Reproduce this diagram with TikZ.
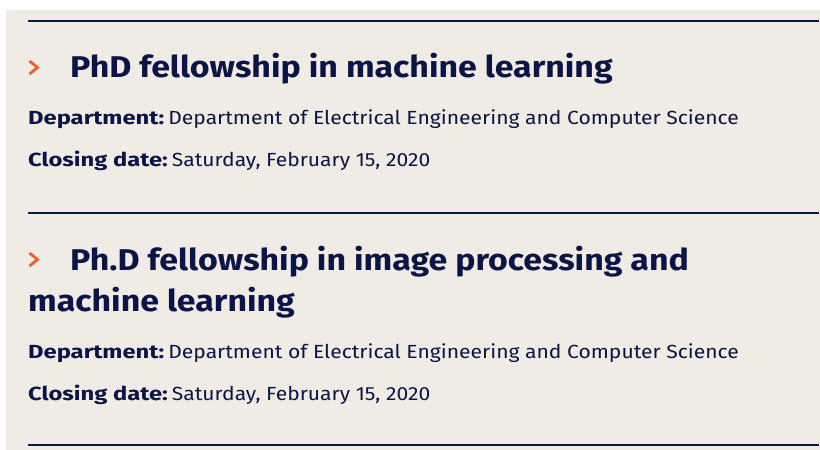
\documentclass[tikz,border=0pt]{standalone}
\usepackage{fontspec}
\setmainfont{Fira Sans}[FakeStretch=1.11, BoldFeatures={FakeStretch=1.13}]
\newfontfamily\labelfont{Fira Sans}[FakeStretch=1.25]
\usetikzlibrary{positioning}

\definecolor{navy}{HTML}{0B1446}
\definecolor{paper}{HTML}{F0EBE4}
\definecolor{chev}{HTML}{E8642C}

\newcommand{\field}[2]{{\labelfont\bfseries #1}\hspace{4pt}#2}

\begin{document}
\begin{tikzpicture}[
    x=1pt, y=-1pt,
    heading/.style={anchor=base west, inner sep=0pt, text=navy, font=\fontsize{30}{40}\selectfont\bfseries, align=left},
    info/.style={anchor=base west, inner sep=0pt, text=navy, font=\fontsize{19}{23}\selectfont},
    rule/.style={draw=navy, line width=1.6pt},
    chevron/.style={draw=chev, line width=2.8pt, miter limit=10},
]

% Background
\useasboundingbox (0,0) rectangle (820,450);
\fill [white] (0,0) rectangle (820,450);
\fill [paper] (6,10) rectangle (820,450);

% Rules
\draw [rule] (28,21) -- (819,21);
\draw [rule] (28,213) -- (819,213);
\draw [rule] (28,445) -- (819,445);

% First posting
\draw [chevron] (29.5,61) -- (37.5,67.5) -- (29.5,74);
\node [heading] (title1) at (70,77) {PhD fellowship in machine learning};
\node [info] (dept1) at (28,124) {\field{Department:}{Department of Electrical Engineering and Computer Science}};
\node [info] (close1) at (28,166) {\field{Closing date:}{Saturday, February 15, 2020}};

% Second posting
\draw [chevron] (29.5,253) -- (37.5,259.5) -- (29.5,266);
\node [heading] (title2) at (70,270) {Ph.D fellowship in image processing and};
\node [heading] (title2b) at (28,311) {machine learning};
\node [info] (dept2) at (28,358) {\field{Department:}{Department of Electrical Engineering and Computer Science}};
\node [info] (close2) at (28,400) {\field{Closing date:}{Saturday, February 15, 2020}};

\end{tikzpicture}
\end{document}
